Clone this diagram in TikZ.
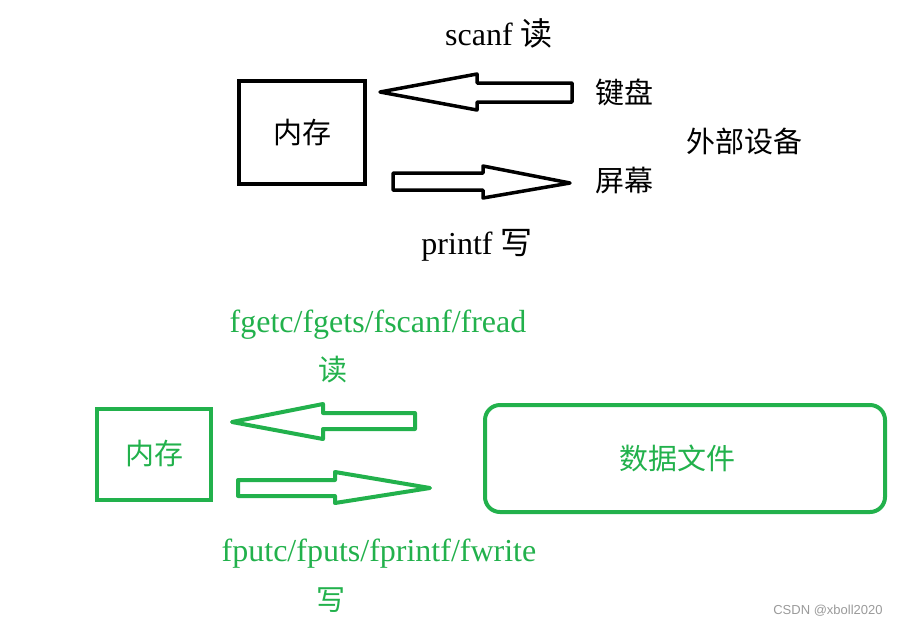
\documentclass[tikz,border=0pt]{standalone}
\usepackage{fontspec}
\setmainfont{Liberation Serif}
\newfontfamily\cjk{Noto Sans CJK SC}
\newfontfamily\marksans{Liberation Sans}
\usetikzlibrary{positioning}
\definecolor{fileGreen}{HTML}{22B14C}
\definecolor{markGray}{HTML}{9A9A9A}
\tikzset{
  membox/.style={rectangle, draw, line width=4pt, minimum width=126pt,
    minimum height=103pt, font=\cjk\fontsize{29}{32}\selectfont},
  memboxGreen/.style={membox, draw=fileGreen, text=fileGreen,
    minimum width=114pt, minimum height=91pt},
  filebox/.style={rectangle, rounded corners=15pt, draw=fileGreen, line width=4pt,
    minimum width=400pt, minimum height=107pt, text=fileGreen,
    font=\cjk\fontsize{29}{32}\selectfont},
  lbl/.style={inner sep=0pt, font=\fontsize{32}{36}\selectfont},
  zhlbl/.style={inner sep=0pt, font=\cjk\fontsize{29}{32}\selectfont},
  blockarrow/.style={draw, line width=3.5pt, line join=round},
  blockarrowGreen/.style={blockarrow, draw=fileGreen, line width=4pt}
}
\begin{document}
\begin{tikzpicture}[x=1pt, y=-1pt]
  \useasboundingbox (0,0) rectangle (904,625);
  % screen / keyboard
  \node[membox] (mem) at (302,132.5) {内存};
  \node[lbl] (scanf) at (499,33) {scanf {\cjk 读}};
  \node[zhlbl] (kbd) at (624,92) {键盘};
  \node[zhlbl] (dev) at (744,141) {外部设备};
  \node[zhlbl] (scr) at (624,181) {屏幕};
  \node[lbl] (printf) at (477,245) {printf {\cjk 写}};
  \coordinate (kbtip) at (380,92);
  \coordinate (scrtail) at (393,173);
  \draw[blockarrow] (kbtip) -- ++(97,-18) -- ++(0,9) -- ++(95,0) -- ++(0,19)
    -- ++(-95,0) -- ++(0,8) -- cycle;
  \draw[blockarrow] (scrtail) -- ++(90,0) -- ++(0,-7) -- ++(87,17) -- ++(-87,15)
    -- ++(0,-8) -- ++(-90,0) -- cycle;
  % file
  \node[lbl, text=fileGreen] (fread) at (378,325) {fgetc/fgets/fscanf/fread};
  \node[zhlbl, text=fileGreen] (rd) at (333,370) {读};
  \node[memboxGreen] (memf) at (154,454.5) {\raisebox{5pt}{内存}};
  \node[filebox] (file) at (685,458.5) {\hspace*{-16pt}数据文件};
  \node[lbl, text=fileGreen] (fwrite) at (379,554) {fputc/fputs/fprintf/fwrite};
  \node[zhlbl, text=fileGreen] (wr) at (331,600) {写};
  \coordinate (rdtip) at (232,422);
  \coordinate (wrtail) at (238,480);
  \draw[blockarrowGreen] (rdtip) -- ++(91,-18) -- ++(0,9) -- ++(92,0) -- ++(0,16)
    -- ++(-92,0) -- ++(0,10) -- cycle;
  \draw[blockarrowGreen] (wrtail) -- ++(97,0) -- ++(0,-8) -- ++(95,16) -- ++(-95,15)
    -- ++(0,-7) -- ++(-97,0) -- cycle;
  \node[inner sep=0pt, text=markGray, font=\marksans\fontsize{13}{15}\selectfont]
    (mark) at (828,611) {CSDN @xboll2020};
\end{tikzpicture}
\end{document}
